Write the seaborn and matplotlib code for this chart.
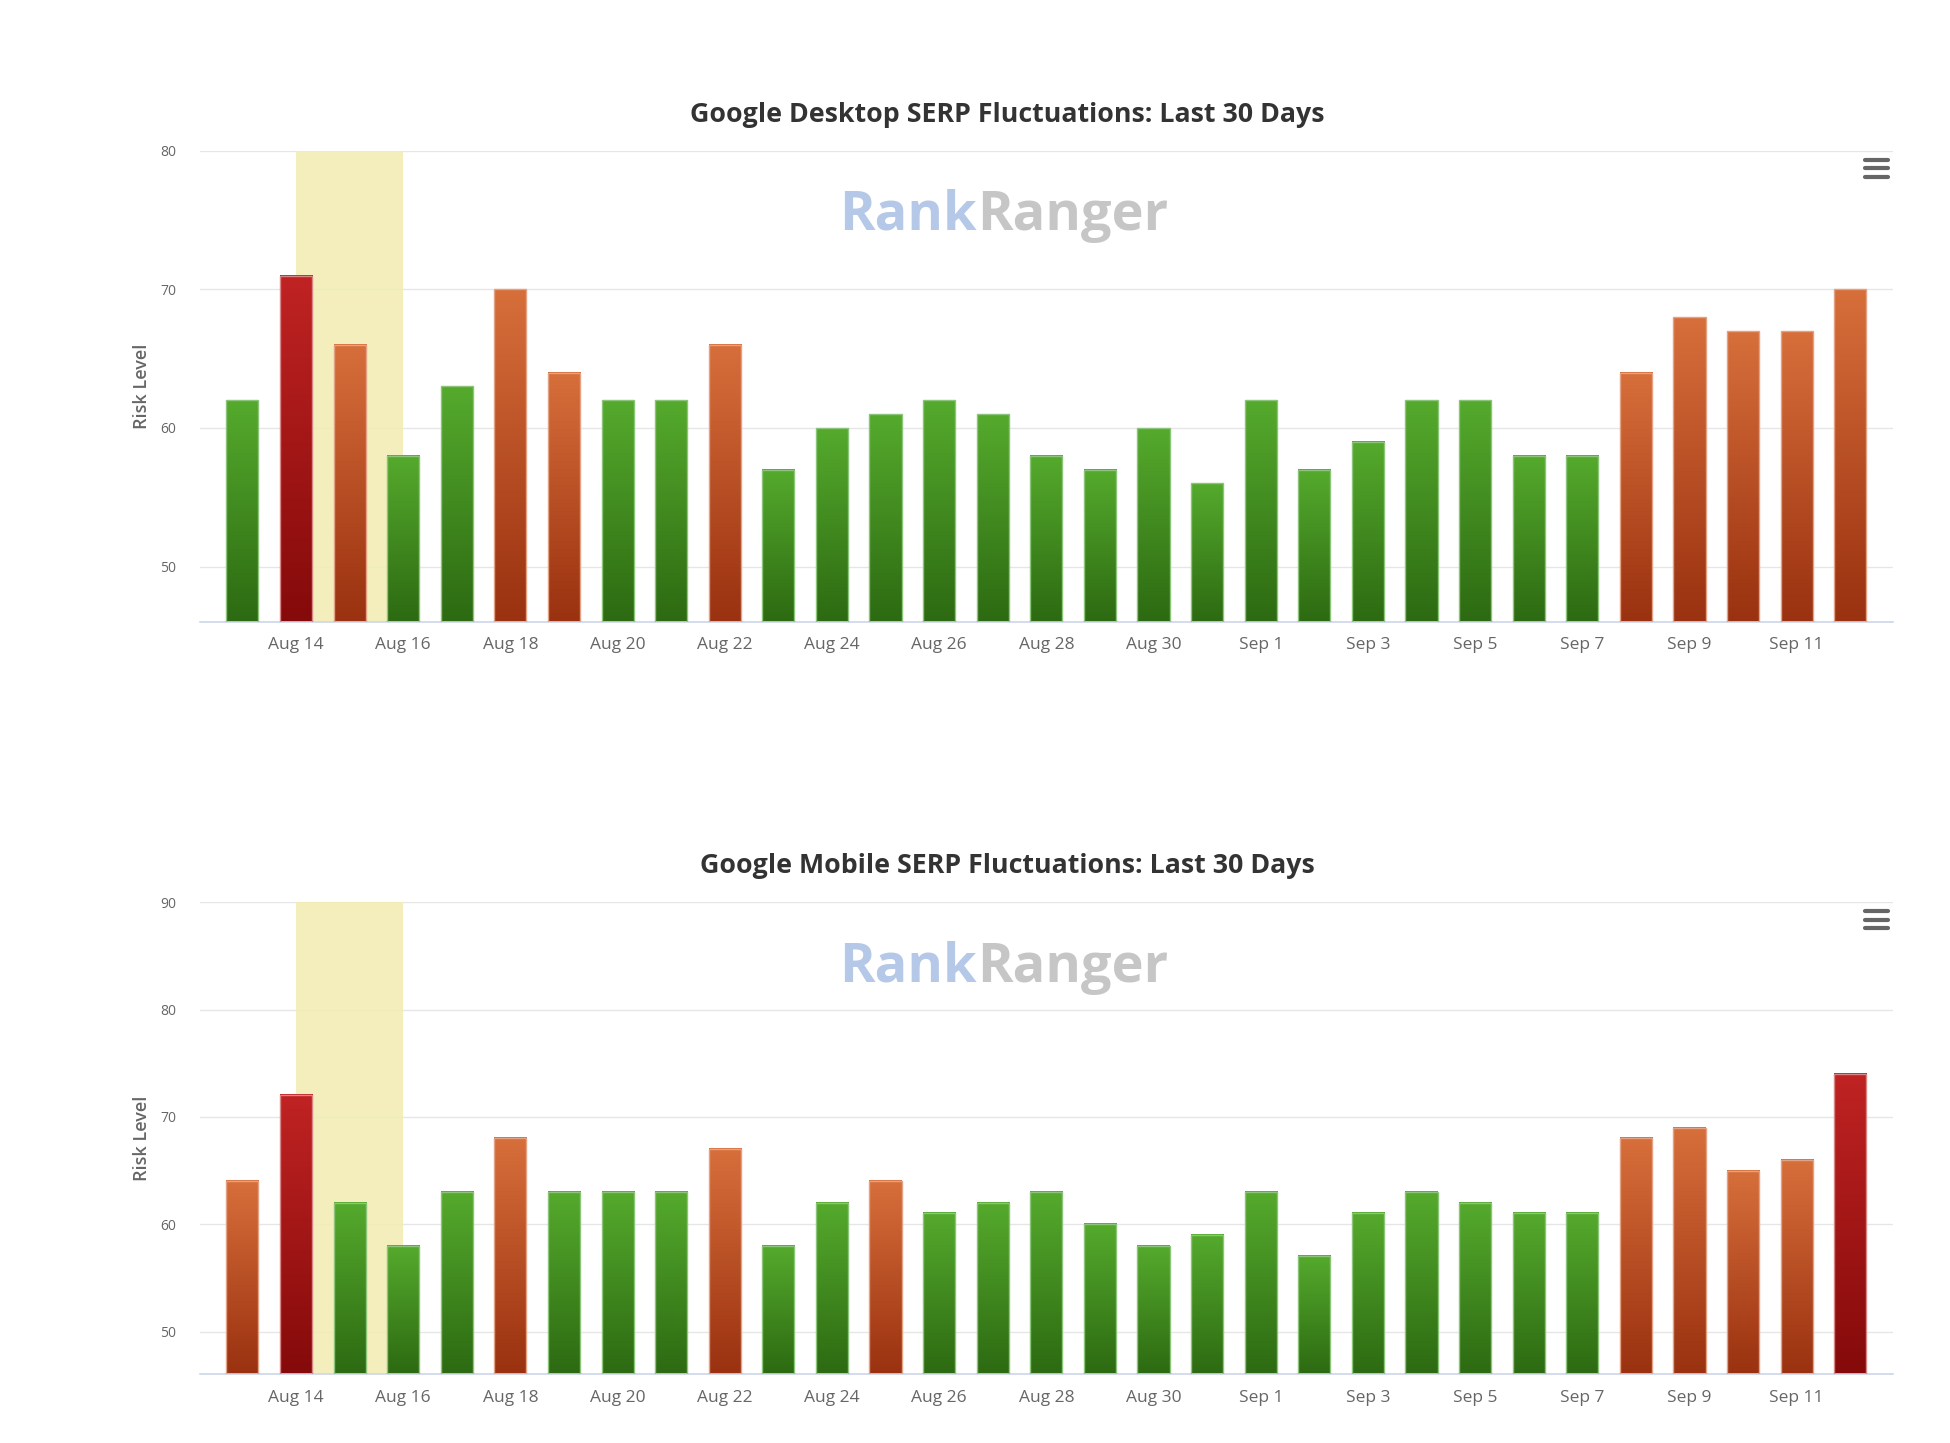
import numpy as np
import pandas as pd
import matplotlib
matplotlib.use('Agg')
import matplotlib.pyplot as plt
from matplotlib.colors import LinearSegmentedColormap
from matplotlib.lines import Line2D
import seaborn as sns

days = ['Aug 13', 'Aug 14', 'Aug 15', 'Aug 16', 'Aug 17', 'Aug 18', 'Aug 19',
        'Aug 20', 'Aug 21', 'Aug 22', 'Aug 23', 'Aug 24', 'Aug 25', 'Aug 26',
        'Aug 27', 'Aug 28', 'Aug 29', 'Aug 30', 'Aug 31', 'Sep 1', 'Sep 2',
        'Sep 3', 'Sep 4', 'Sep 5', 'Sep 6', 'Sep 7', 'Sep 8', 'Sep 9',
        'Sep 10', 'Sep 11', 'Sep 12']
desktop_risk = [62, 71, 66, 58, 63, 70, 64, 62, 62, 66, 57, 60, 61, 62, 61, 58,
                57, 60, 56, 62, 57, 59, 62, 62, 58, 58, 64, 68, 67, 67, 70]
mobile_risk = [64, 72, 62, 58, 63, 68, 63, 63, 63, 67, 58, 62, 64, 61, 62, 63,
               60, 58, 59, 63, 57, 61, 63, 62, 61, 61, 68, 69, 65, 66, 74]
tick_days = ['Aug 14', 'Aug 16', 'Aug 18', 'Aug 20', 'Aug 22', 'Aug 24',
             'Aug 26', 'Aug 28', 'Aug 30', 'Sep 1', 'Sep 3', 'Sep 5', 'Sep 7',
             'Sep 9', 'Sep 11']
highlight = ['Aug 14', 'Aug 16']
desktop_yticks = [50, 60, 70, 80]
mobile_yticks = [50, 60, 70, 80, 90]

sns.set_theme(style='white')
plt.rcParams['font.family'] = ['Open Sans', 'DejaVu Sans']

# top colour, bottom colour, edge colour
gradients = {
    'green': ('#55aa2d', '#2d6a12', '#8cc47a'),
    'orange': ('#d76f3b', '#9a3110', '#e3a283'),
    'red': ('#c02323', '#850a0a', '#d88585'),
}


def level(v):
    if v > 70:
        return 'red'
    if v >= 64:
        return 'orange'
    return 'green'


def draw_chart(ax, values, yticks, title):
    ymin, ymax = 46, yticks[-1]
    df = pd.DataFrame({'day': days, 'risk': values})
    sns.barplot(data=df, x='day', y='risk', ax=ax, width=0.6, color='white',
                saturation=1, zorder=3)
    grad = np.linspace(1, 0, 128).reshape(-1, 1)
    for patch, v in zip(ax.patches, values):
        lev = level(v)
        top, bottom, edge = gradients[lev]
        cmap = LinearSegmentedColormap.from_list(lev, [bottom, top])
        x0, w = patch.get_x(), patch.get_width()
        patch.set_facecolor('none')
        patch.set_edgecolor(edge)
        patch.set_linewidth(1)
        ax.imshow(grad, cmap=cmap, extent=(x0, x0 + w, ymin, v), aspect='auto',
                  zorder=2, interpolation='bilinear')

    ax.axvspan(days.index(highlight[0]), days.index(highlight[1]),
               color='#f2edb4', alpha=0.9, zorder=1, lw=0)
    ax.set_xlim(-0.79, len(days) - 1 + 0.79)
    ax.set_ylim(ymin, ymax)
    ax.set_yticks(yticks)
    ax.set_xticks([days.index(d) for d in tick_days])
    ax.set_xticklabels(tick_days)
    ax.yaxis.grid(True, color='#e6e6e6', lw=1)
    ax.set_axisbelow(True)
    for s in ['left', 'right', 'top']:
        ax.spines[s].set_visible(False)
    ax.spines['bottom'].set_color('#ccd6eb')
    ax.spines['bottom'].set_linewidth(1.2)
    ax.tick_params(axis='x', length=9, width=1, color='#ccd6eb',
                   labelsize=12.5, labelcolor='#666666', pad=2)
    ax.tick_params(axis='y', length=0, labelsize=10, labelcolor='#666666', pad=17)
    ax.set_xlabel('')
    ax.set_ylabel('Risk Level', fontsize=13, color='#666666', fontweight='semibold')
    ax.yaxis.set_label_coords(-0.029, 0.5)
    ax.set_title(title, fontsize=19.3, fontweight='bold', color='#333333',
                 pad=21, x=0.477)

    # watermark
    ax.text(0.459, 0.832, 'Rank', transform=ax.transAxes, ha='right',
            va='baseline', fontsize=39, fontweight='bold', color='#b5c8e8')
    ax.text(0.459, 0.832, 'Ranger', transform=ax.transAxes, ha='left',
            va='baseline', fontsize=39, fontweight='bold', color='#c6c6c6')

    # menu icon
    for dy in [0.0186, 0.037, 0.0555]:
        ax.add_line(Line2D([0.9835, 0.9975], [1 - dy, 1 - dy],
                           transform=ax.transAxes, color='#666666', lw=3,
                           solid_capstyle='round', clip_on=False))


fig = plt.figure(figsize=(19.5, 14.43), dpi=100)
ax1 = fig.add_axes([0.1026, 0.569, 0.868, 0.3265])
ax2 = fig.add_axes([0.1026, 0.0475, 0.868, 0.3273])
draw_chart(ax1, desktop_risk, desktop_yticks, 'Google Desktop SERP Fluctuations: Last 30 Days')
draw_chart(ax2, mobile_risk, mobile_yticks, 'Google Mobile SERP Fluctuations: Last 30 Days')

fig.savefig('out.png', dpi=100, facecolor='white')
